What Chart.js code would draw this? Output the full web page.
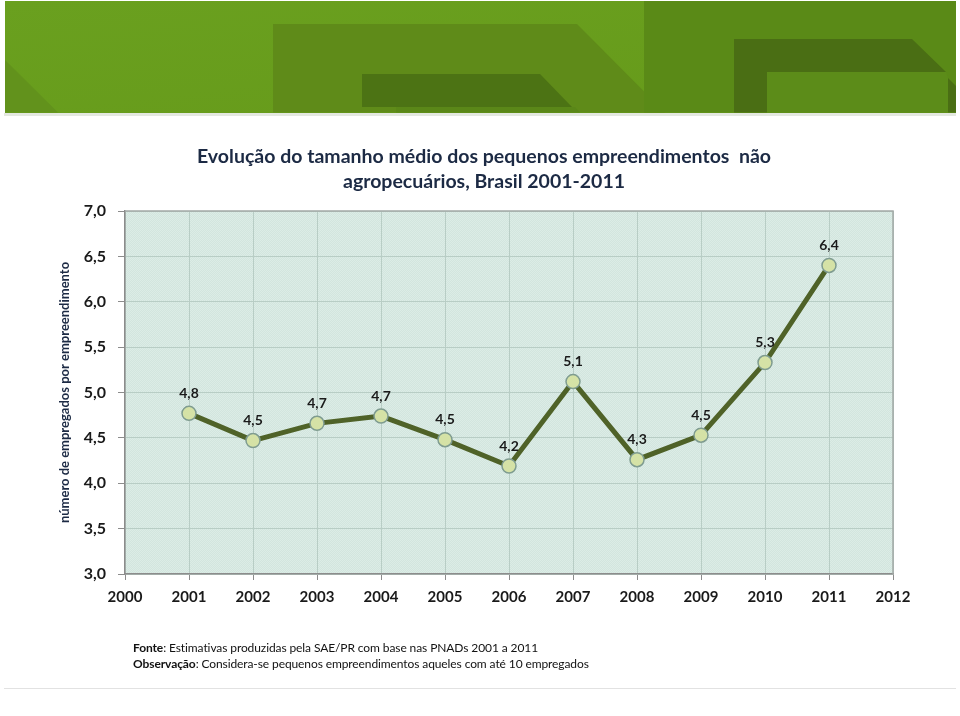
<!DOCTYPE html>
<html>
<head>
<meta charset="utf-8">
<script src="https://cdn.jsdelivr.net/npm/chart.js@4.4.1/dist/chart.umd.min.js"></script>
<style>
  html, body { margin: 0; padding: 0; background: #ffffff; }
  #wrap { position: relative; width: 960px; height: 716px; overflow: hidden; }
  #banner { position: absolute; left: 0; top: 0; }
  #chartBox { position: absolute; left: 0; top: 0; width: 960px; height: 716px; }
  #title { position: absolute; left: 0; top: 143px; width: 968px; text-align: center;
           font-family: Lato, "Open Sans", sans-serif; font-weight: 700; font-size: 19.5px;
           line-height: 25px; color: #1c2a44; white-space: pre; }
  #foot { position: absolute; left: 133px; top: 640px; font-family: Lato, "Open Sans", sans-serif;
          font-size: 12px; letter-spacing: -0.1px; line-height: 15.5px; color: #111; white-space: pre; }
  #foot b { font-weight: 700; }
  #bottomLine { position: absolute; left: 4px; top: 688px; width: 952px; height: 1px; background: #e2e2e2; }
</style>
</head>
<body>
<div id="wrap">
  <svg id="banner" width="960" height="120" viewBox="0 0 960 120">
    <defs>
      <linearGradient id="g0" x1="0" y1="0" x2="1" y2="1">
        <stop offset="0" stop-color="#6aa01f"/>
        <stop offset="1" stop-color="#669a1a"/>
      </linearGradient>
    </defs>
    <rect x="4" y="113" width="952" height="3" fill="#e4e8e0"/>
    <rect x="5" y="1" width="951" height="112" fill="url(#g0)"/>
    <polygon points="5,60 58,112.5 5,112.5" fill="#62921c"/>
    <polygon points="273,24 577,24 665,112.5 273,112.5" fill="#5f8b19"/>
    <polygon points="362,74 540,74 572,107 362,107" fill="#4c7314"/>
    <polygon points="396,107 575,107 580,112.5 396,112.5" fill="#5a8718"/>
    <rect x="644" y="1" width="312" height="111.5" fill="#5a8a17"/>
    <polygon points="734,39 912,39 946,72 767,72 767,112.5 734,112.5" fill="#4a6e14"/>
    <polygon points="767,72 946,72 948,78 948,112.5 767,112.5" fill="#5c8c19"/>
    <polygon points="948,78 956,86 956,112.5 948,112.5" fill="#4a6e14"/>
  </svg>
  <div id="chartBox"><canvas id="c"></canvas></div>
  <div id="title">Evolução do tamanho médio dos pequenos empreendimentos  não
agropecuários, Brasil 2001-2011</div>
  <div id="foot"><b>Fonte</b>: Estimativas produzidas pela SAE/PR com base nas PNADs 2001 a 2011
<b>Observação</b>: Considera-se pequenos empreendimentos aqueles com até 10 empregados</div>
  <div id="bottomLine"></div>
</div>
<script>
// ---- data ----
const years = ['2000','2001','2002','2003','2004','2005','2006','2007','2008','2009','2010','2011','2012'];
const avgEmployees = [null, 4.77, 4.47, 4.66, 4.74, 4.48, 4.19, 5.12, 4.26, 4.53, 5.33, 6.40, null];
const yMin = 3.0;
const yMax = 7.0;
const yStep = 0.5;
const yAxisTitle = 'número de empregados por empreendimento';

const fmt = v => v.toFixed(1).replace('.', ',');

// dithered plot background
function makePattern(ctx) {
  const p = document.createElement('canvas');
  p.width = 2; p.height = 2;
  const pc = p.getContext('2d');
  pc.fillStyle = '#d2e5de'; pc.fillRect(0, 0, 2, 2);
  pc.fillStyle = '#dcece6'; pc.fillRect(0, 0, 1, 1); pc.fillRect(1, 1, 1, 1);
  return ctx.createPattern(p, 'repeat');
}

const plotBg = {
  id: 'plotBg',
  beforeDraw(chart) {
    const { ctx, chartArea: a } = chart;
    ctx.save();
    ctx.fillStyle = makePattern(ctx);
    ctx.fillRect(a.left, a.top, a.right - a.left, a.bottom - a.top);
    ctx.restore();
  },
  afterDraw(chart) {
    const { ctx, chartArea: a } = chart;
    ctx.save();
    ctx.strokeStyle = '#a3a9a6';
    ctx.lineWidth = 1.5;
    ctx.beginPath();
    ctx.moveTo(a.left, a.top);
    ctx.lineTo(a.right, a.top);
    ctx.lineTo(a.right, a.bottom);
    ctx.stroke();
    ctx.restore();
  }
};

const valueLabels = {
  id: 'valueLabels',
  afterDatasetsDraw(chart) {
    const { ctx } = chart;
    const meta = chart.getDatasetMeta(0);
    ctx.save();
    ctx.font = '700 14px Lato, "Open Sans", sans-serif';
    ctx.fillStyle = '#1a1a1a';
    ctx.textAlign = 'center';
    ctx.textBaseline = 'middle';
    meta.data.forEach((pt, i) => {
      const v = avgEmployees[i];
      if (v === null || v === undefined) return;
      ctx.fillText(fmt(v), pt.x, pt.y - 20);
    });
    ctx.restore();
  }
};

new Chart(document.getElementById('c'), {
  type: 'line',
  data: {
    labels: years,
    datasets: [{
      data: avgEmployees,
      borderColor: '#4f6228',
      borderWidth: 5,
      pointRadius: 7,
      pointHoverRadius: 7,
      pointBackgroundColor: '#d5e2a6',
      pointBorderColor: '#7f9c90',
      pointBorderWidth: 1.5,
      tension: 0,
      spanGaps: false
    }]
  },
  options: {
    responsive: true,
    maintainAspectRatio: false,
    animation: false,
    events: [],
    layout: { padding: { left: 0, right: 67, top: 211, bottom: 0 } },
    plugins: { legend: { display: false }, tooltip: { enabled: false } },
    scales: {
      x: {
        type: 'category',
        offset: false,
        afterFit(s) { s.height = 142; },
        grid: { color: '#b8cdc5', lineWidth: 1, tickLength: 6, tickColor: '#8c8c8c', drawOnChartArea: true },
        border: { color: '#8c8c8c', width: 1.5 },
        ticks: {
          padding: 8,
          maxRotation: 0, autoSkip: false,
          color: '#1a1a1a',
          font: { family: 'Lato, "Open Sans", sans-serif', size: 15, weight: '700' }
        }
      },
      y: {
        min: yMin, max: yMax,
        afterFit(s) { s.width = 125; },
        grid: { color: '#b8cdc5', lineWidth: 1, tickLength: 7, tickColor: '#8c8c8c' },
        border: { color: '#8c8c8c', width: 1.5 },
        ticks: {
          stepSize: yStep,
          padding: 12,
          color: '#1a1a1a',
          font: { family: 'Lato, "Open Sans", sans-serif', size: 16, weight: '700' },
          callback: v => fmt(v)
        },
        title: {
          display: true,
          text: yAxisTitle,
          color: '#1c2a44',
          font: { family: 'Lato, "Open Sans", sans-serif', size: 13, weight: '700' },
          padding: { top: 57, bottom: 0 }
        }
      }
    }
  },
  plugins: [plotBg, valueLabels]
});
</script>
</body>
</html>
